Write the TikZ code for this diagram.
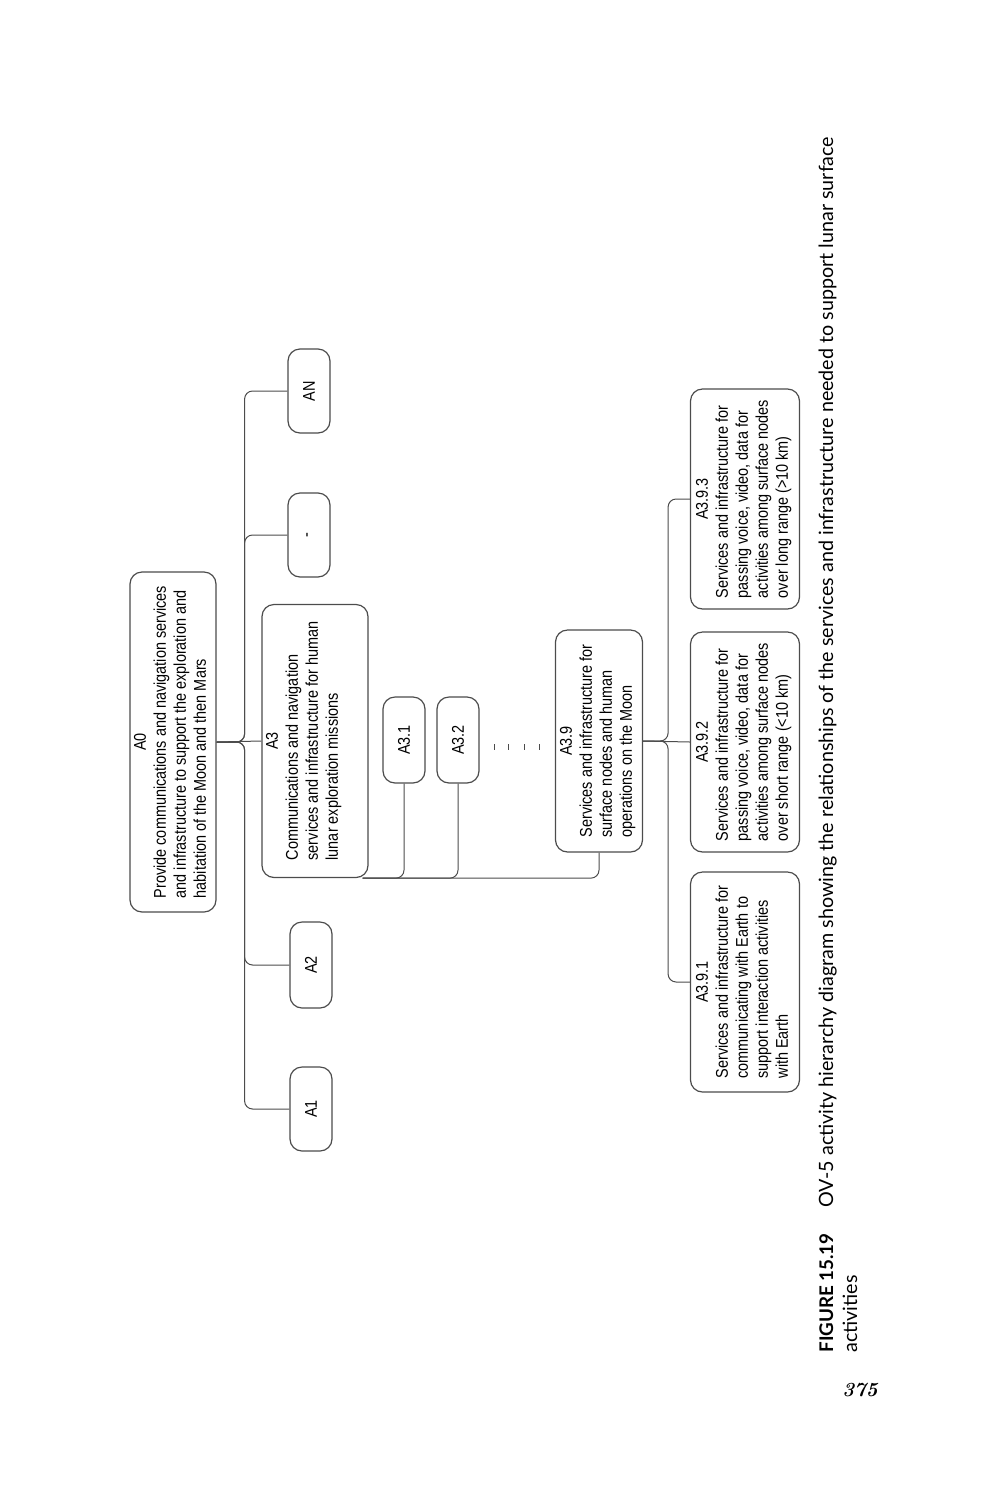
\documentclass[tikz,border=0pt]{standalone}
\usepackage{fontspec}
\usepackage{tikz}
\usetikzlibrary{calc}
\newfontfamily\boxfont[FakeStretch=0.85]{Liberation Sans}
\newfontfamily\capfont{Lato}

\begin{document}
\begin{tikzpicture}[x=0.5pt, y=-0.5pt,
    act/.style={draw=black!70, line width=0.6pt, rounded corners=6pt, rotate=90,
      font=\boxfont\fontsize{8.5}{10}\selectfont, align=center, inner sep=1pt},
    leaf/.style={act, minimum width=42pt, minimum height=21pt},
    conn/.style={draw=black!70, line width=0.5pt, rounded corners=4pt}]
  \useasboundingbox (0,0) rectangle (993,1500);

  % top level
  \node[act, minimum width=170pt, minimum height=43pt] (A0) at (173,742) {A0\\
    \begin{tabular}[t]{@{}l@{}}Provide communications and navigation services\\
      and infrastructure to support the exploration and\\
      habitation of the Moon and then Mars\end{tabular}};
  \node[leaf] (A1) at (311,1109) {A1};
  \node[leaf, minimum width=43pt] (A2) at (311,965) {A2};
  \node[act, minimum width=136.5pt, minimum height=53pt] (A3) at (315,741) {A3\\
    \begin{tabular}[t]{@{}l@{}}Communications and navigation\\
      services and infrastructure for human\\
      lunar exploration missions\\ ~\end{tabular}};
  \node[leaf] (Ax) at (309,535) {-};
  \node[leaf] (AN) at (309,391) {AN};

  % A3 children
  \node[leaf, minimum width=43pt] (A31) at (404,740) {A3.1};
  \node[leaf, minimum width=43pt] (A32) at (458,740) {A3.2};
  \foreach \x in {494,508,524,539}
    \draw[conn] (\x,744) -- (\x,750);
  \node[act, minimum width=111pt, minimum height=43.5pt] (A39) at (599,741) {A3.9\\
    \begin{tabular}[t]{@{}l@{}}Services and infrastructure for\\
      surface nodes and human\\
      operations on the Moon\end{tabular}};

  % A3.9 children
  \node[act, minimum width=110pt, minimum height=54.5pt] (A391) at (745,982) {A3.9.1\\
    \begin{tabular}[t]{@{}l@{}}Services and infrastructure for\\
      communicating with Earth to\\
      support interaction activities\\
      with Earth\end{tabular}};
  \node[act, minimum width=110pt, minimum height=54.5pt] (A392) at (745,742) {A3.9.2\\
    \begin{tabular}[t]{@{}l@{}}Services and infrastructure for\\
      passing voice, video, data for\\
      activities among surface nodes\\
      over short range (<10 km)\end{tabular}};
  \node[act, minimum width=110pt, minimum height=54.5pt] (A393) at (745,499) {A3.9.3\\
    \begin{tabular}[t]{@{}l@{}}Services and infrastructure for\\
      passing voice, video, data for\\
      activities among surface nodes\\
      over long range (>10 km)\end{tabular}};

  % connectors
  \draw[conn] (A0.south) -- (A3.north);
  \foreach \n in {A1,A2,Ax,AN}
    \draw[conn] (A0.south) -- ++(28,0) |- (\n.north);
  \foreach \n in {A31,A32,A39}
    \draw[conn] (\n.west) |- ($(A3.south west)+(-6,0)$);
  \draw[conn] (A39.south) -- (A392.north);
  \foreach \n in {A391,A393}
    \draw[conn] (A39.south) -- ++(25,0) |- (\n.north);

  % caption and page number
  \node[rotate=90, anchor=base west, align=left, inner sep=0pt,
    font=\capfont\fontsize{9.85}{12}\selectfont] (cap) at (857,1353)
    {{\bfseries\fontsize{9.4}{12}\selectfont FIGURE 15.19}\hspace{1.3em}OV-5 activity hierarchy diagram showing the relationships of the services and infrastructure needed to support lunar surface\\activities};
  \node[inner sep=0pt, font=\bfseries\itshape\fontsize{10}{12}\selectfont] (pg) at (860,1390) {375};
\end{tikzpicture}
\end{document}
